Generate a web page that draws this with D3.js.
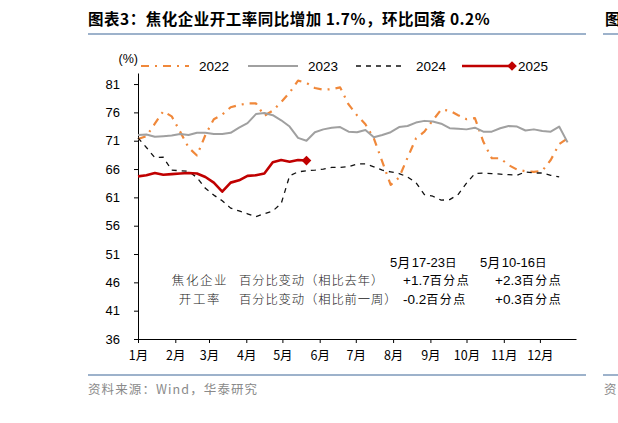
<!DOCTYPE html>
<html>
<head>
<meta charset="utf-8">
<script src="https://cdn.jsdelivr.net/npm/d3@7"></script>
<style>
  body { margin: 0; background: #fff; }
  svg { display: block; }
</style>
</head>
<body>
<script>
// weekly sample dates (month-day), shared by all years
const weeks = [
  "01-01", "01-08", "01-15", "01-22", "01-29", "02-05", "02-12", "02-19", "02-26",
  "03-05", "03-12", "03-19", "03-26", "04-02", "04-09", "04-16", "04-23", "04-30",
  "05-07", "05-14", "05-21", "05-28", "06-04", "06-11", "06-18", "06-25", "07-02",
  "07-09", "07-16", "07-23", "07-30", "08-06", "08-13", "08-20", "08-27", "09-03",
  "09-10", "09-17", "09-24", "10-01", "10-08", "10-15", "10-22", "10-29", "11-05",
  "11-12", "11-19", "11-26", "12-03", "12-10", "12-17", "12-24",
];

const values2022 = [
  71.3, 71.8, 74.0, 76.2, 75.3, 72.6, 69.8, 68.4, 72.0, 74.8, 75.6, 76.9, 77.3,
  77.6, 77.6, 75.4, 76.3, 77.8, 79.5, 81.6, 81.2, 80.3, 80.0, 80.1, 80.4, 77.4,
  75.5, 73.9, 71.4, 67.3, 63.2, 64.5, 68.0, 71.4, 72.6, 74.6, 76.5, 76.3, 75.5,
  74.8, 75.0, 70.8, 67.9, 67.9, 66.7, 65.9, 65.6, 65.5, 65.7, 67.6, 70.4, 71.4,
];
const values2023 = [
  72.0, 72.1, 71.7, 71.8, 71.9, 72.2, 72.0, 72.4, 72.4, 72.2, 72.2, 72.4, 73.3,
  74.1, 75.7, 75.9, 75.5, 74.6, 73.5, 71.5, 71.0, 72.5, 73.0, 73.3, 73.4, 72.6,
  72.5, 72.9, 71.6, 72.0, 72.5, 73.4, 73.6, 74.2, 74.5, 74.4, 74.0, 73.2, 73.1,
  73.0, 73.3, 72.6, 72.6, 73.2, 73.6, 73.5, 72.8, 73.0, 72.7, 72.6, 73.5, 70.7,
];
const values2024 = [
  71.5, 69.8, 68.0, 68.1, 65.8, 65.7, 65.6, 64.5, 62.6, 61.4, 60.4, 59.1, 58.6,
  58.1, 57.6, 58.1, 58.6, 59.9, 64.8, 65.5, 65.7, 65.8, 66.0, 66.3, 66.3, 66.4,
  66.9, 66.9, 66.4, 65.8, 65.5, 65.2, 64.6, 63.6, 61.5, 61.2, 60.5, 60.6, 61.5,
  63.5, 65.2, 65.3, 65.2, 65.1, 65.0, 64.9, 65.5, 65.3, 65.3, 64.9, 64.6,
];
const values2025 = [
  64.7, 64.9, 65.3, 65.0, 65.1, 65.2, 65.3, 65.2, 64.6, 63.6, 62.0, 63.6, 64.0,
  64.8, 64.9, 65.2, 67.2, 67.6, 67.3, 67.6, 67.5,
];

const yTicks = [36, 41, 46, 51, 56, 61, 66, 71, 76, 81];
const monthLabels = ["1月", "2月", "3月", "4月", "5月", "6月", "7月", "8月", "9月", "10月", "11月", "12月"];

const series = [
  { name: "2022", values: values2022, color: "#F0883A", width: 2.2, dash: "8,6,2,6" },
  { name: "2023", values: values2023, color: "#A0A0A0", width: 2, dash: null },
  { name: "2024", values: values2024, color: "#111", width: 1.3, dash: "5,5" },
  { name: "2025", values: values2025, color: "#C00000", width: 2.6, dash: null, marker: true },
];

const width = 618;
const height = 423;
const parseDay = d3.timeParse("%Y-%m-%d");
const cjk = "'Noto Sans CJK SC', 'Liberation Sans', sans-serif";
const latin = "'Liberation Sans', Arial, sans-serif";

const svg = d3.select("body").append("svg").attr("width", width).attr("height", height);

/** title & rules **/
svg.append("text")
  .attr("x", 88).attr("y", 25)
  .attr("font-family", cjk).attr("font-weight", "bold").attr("font-size", 15.5)
  .attr("letter-spacing", 0.5)
  .text("图表3：焦化企业开工率同比增加 1.7%，环比回落 0.2%");
// start of the neighbouring panel, cut by the page edge
svg.append("text")
  .attr("x", 605).attr("y", 25)
  .attr("font-family", cjk).attr("font-weight", "bold").attr("font-size", 15.5)
  .text("图");

for (const y of [34, 375]) {
  svg.append("line").attr("x1", 88).attr("x2", 586).attr("y1", y).attr("y2", y)
    .attr("stroke", "#9DB2CB").attr("stroke-width", 2);
  svg.append("line").attr("x1", 603).attr("x2", 618).attr("y1", y).attr("y2", y)
    .attr("stroke", "#9DB2CB").attr("stroke-width", 2);
}

svg.append("text")
  .attr("x", 88).attr("y", 394)
  .attr("font-family", cjk).attr("font-size", 12.5).attr("fill", "#8a8a8a")
  .attr("letter-spacing", 1.1)
  .text("资料来源：Wind，华泰研究");
svg.append("text")
  .attr("x", 604).attr("y", 394)
  .attr("font-family", cjk).attr("font-size", 12.5).attr("fill", "#8a8a8a")
  .text("资");

/** scales **/
const x = d3.scaleTime()
  .domain([new Date(2023, 0, 1), new Date(2023, 11, 31)])
  .range([138, 576]);
const y = d3.scaleLinear().domain([36, 82.95]).range([339, 73]);

/** axes **/
svg.append("g")
  .attr("transform", "translate(0,339)")
  .call(
    d3.axisBottom(x)
      .tickValues(d3.timeMonth.range(new Date(2023, 0, 1), new Date(2023, 11, 2)))
      .tickFormat((d) => monthLabels[d.getMonth()])
      .tickSize(4)
      .tickSizeOuter(0)
      .tickPadding(8),
  )
  .call((g) => {
    g.selectAll("text").attr("font-family", cjk).attr("font-size", 12.5).attr("fill", "#000");
    g.selectAll("line, path").attr("stroke", "#000");
  });

svg.append("g")
  .attr("transform", "translate(138,0)")
  .call(d3.axisLeft(y).tickValues(yTicks).tickSize(4).tickSizeOuter(0).tickPadding(14))
  .call((g) => {
    g.selectAll("text").attr("font-family", latin).attr("font-size", 13).attr("fill", "#000");
    g.selectAll("line, path").attr("stroke", "#000");
  });

svg.append("text")
  .attr("x", 138).attr("y", 63).attr("text-anchor", "end")
  .attr("font-family", latin).attr("font-size", 12.5)
  .text("(%)");

/** lines **/
const line = d3.line()
  .x((d) => x(parseDay("2023-" + d.date)))
  .y((d) => y(d.value));

for (const s of series) {
  const points = s.values.map((value, i) => ({ date: weeks[i], value }));
  svg.append("path")
    .datum(points)
    .attr("d", line)
    .attr("fill", "none")
    .attr("stroke", s.color)
    .attr("stroke-width", s.width)
    .attr("stroke-dasharray", s.dash)
    .attr("stroke-linejoin", "round");

  if (s.marker) {
    const last = points[points.length - 1];
    svg.append("path")
      .attr("d", d3.symbol(d3.symbolDiamond2, 60)())
      .attr("transform", `translate(${x(parseDay("2023-" + last.date))},${y(last.value)})`)
      .attr("fill", s.color);
  }
}

/** legend **/
const legendX = [141, 248, 356, 462];
const legend = svg.append("g").attr("transform", "translate(0,66)");
series.forEach((s, i) => {
  const lx = legendX[i];
  const len = i === 0 ? 48 : 50;
  legend.append("line")
    .attr("x1", lx).attr("x2", lx + len)
    .attr("stroke", s.color)
    .attr("stroke-width", s.width)
    .attr("stroke-dasharray", s.dash);
  if (s.marker) {
    legend.append("path")
      .attr("d", d3.symbol(d3.symbolDiamond2, 60)())
      .attr("transform", `translate(${lx + len},0)`)
      .attr("fill", s.color);
  }
  legend.append("text")
    .attr("x", lx + len + (s.marker ? 6 : 10)).attr("y", 5)
    .attr("font-family", latin).attr("font-size", 13.5)
    .text(s.name);
});

/** annotation table **/
const annotHeaders = [
  [{ t: "5", f: latin }, { t: "月", f: cjk }, { t: "17-23", f: latin }, { t: "日", f: cjk, s: 11.5 }],
  [{ t: "5", f: latin }, { t: "月", f: cjk }, { t: "10-16", f: latin }, { t: "日", f: cjk, s: 11.5 }],
];
const annotLabels = [
  ["焦化企业", "百分比变动（相比去年）"],
  ["开工率", "百分比变动（相比前一周）"],
];
const annotValues = [
  ["+1.7", "+2.3"],
  ["-0.2", "+0.3"],
];

const writeParts = (sel, parts) => {
  for (const p of parts) {
    sel.append("tspan")
      .attr("font-family", p.f)
      .attr("font-size", p.s || 13)
      .attr("letter-spacing", p.f === cjk ? 1.5 : 0)
      .text(p.t);
  }
};

const colX = [390, 480];
const valX = [403, 495];
const rowY = [285, 304];

annotHeaders.forEach((parts, i) => {
  writeParts(svg.append("text").attr("x", colX[i]).attr("y", 267), parts);
});

annotLabels.forEach((row, r) => {
  svg.append("text")
    .attr("x", 200).attr("y", rowY[r]).attr("text-anchor", "middle")
    .attr("font-family", cjk).attr("font-size", 12.5).attr("font-weight", 300)
    .attr("letter-spacing", 1.6).attr("fill", "#222")
    .text(row[0]);
  svg.append("text")
    .attr("x", 239).attr("y", rowY[r])
    .attr("font-family", cjk).attr("font-size", 12.3).attr("font-weight", 300)
    .attr("letter-spacing", 0.9).attr("fill", "#222")
    .text(row[1]);
});

annotValues.forEach((row, r) => {
  row.forEach((v, c) => {
    const t = svg.append("text").attr("x", valX[c]).attr("y", rowY[r]);
    writeParts(t, [{ t: v, f: latin, s: 13.5 }, { t: "百分点", f: cjk, s: 12 }]);
  });
});
</script>
</body>
</html>
